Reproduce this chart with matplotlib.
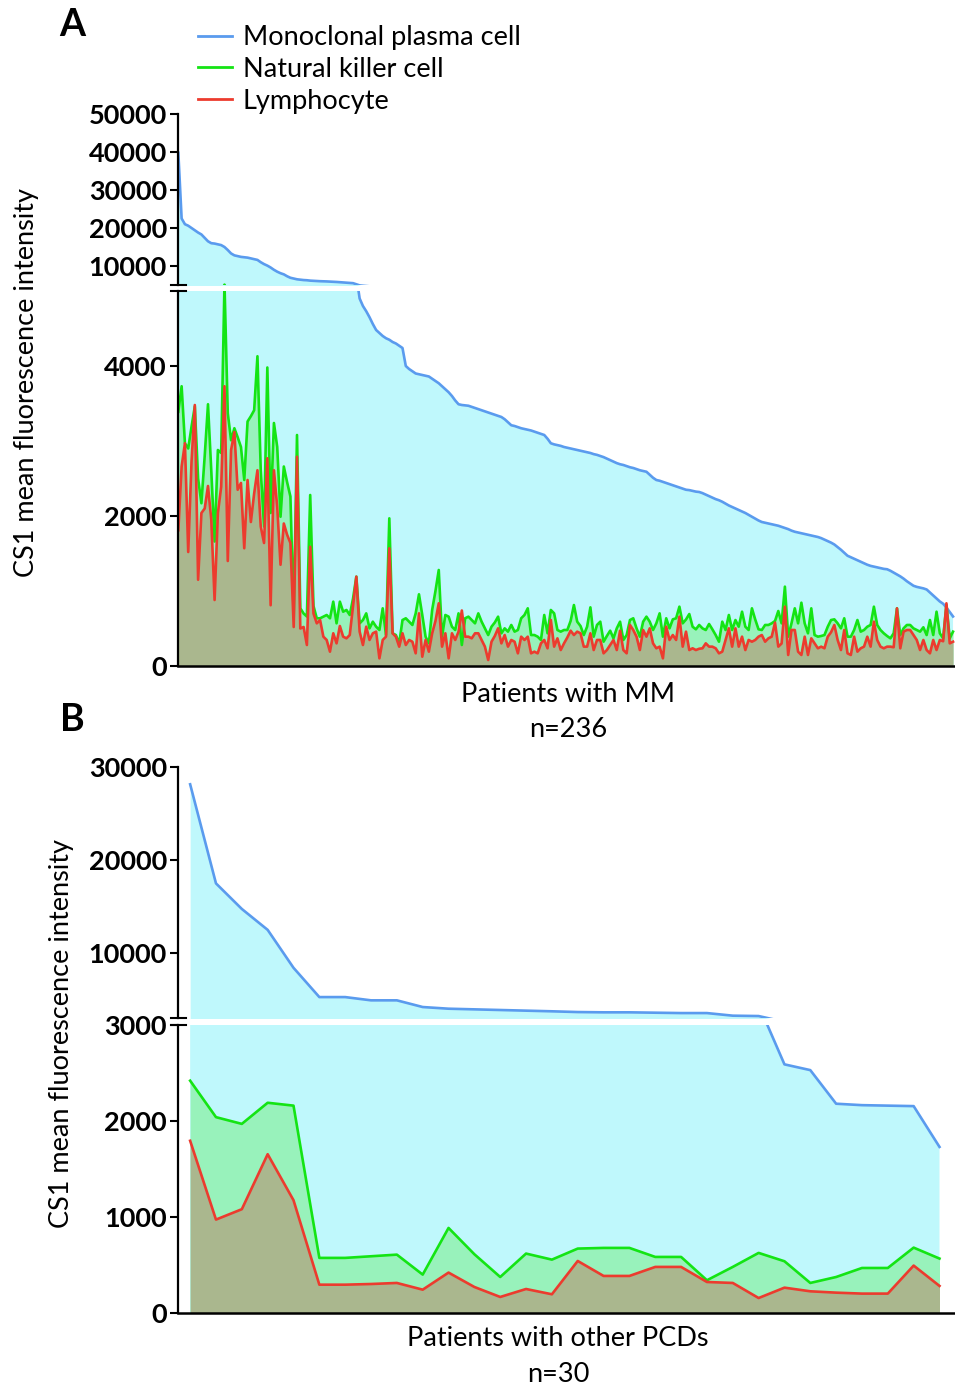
import numpy as np
import matplotlib
matplotlib.use('Agg')
import matplotlib.pyplot as plt
from matplotlib.lines import Line2D

plt.rcParams['font.family'] = ['Lato', 'DejaVu Sans']

# ---- panel A : 236 patients with MM (sorted by plasma cell MFI)
a_plasma = [39800, 22500, 21000, 20600, 20000, 19400, 18800, 18300, 17400, 16500,
            16000, 15900, 15700, 15500, 15000, 14200, 13300, 12800, 12600, 12400,
            12300, 12200, 12000, 11800, 11600, 11000, 10500, 10100, 9600, 9000,
            8500, 8100, 7800, 7300, 6900, 6700, 6500, 6400, 6300, 6250,
            6150, 6100, 6050, 6000, 5980, 5940, 5900, 5870, 5800, 5740,
            5680, 5620, 5560, 5480, 5200, 4900, 4800, 4730, 4650, 4560,
            4480, 4440, 4400, 4370, 4350, 4320, 4300, 4270, 4240, 4000,
            3960, 3930, 3900, 3890, 3880, 3870, 3860, 3830, 3800, 3770,
            3730, 3690, 3650, 3600, 3540, 3490, 3480, 3475, 3470, 3455,
            3440, 3425, 3410, 3395, 3380, 3365, 3350, 3335, 3320, 3290,
            3250, 3210, 3200, 3185, 3170, 3160, 3150, 3140, 3125, 3110,
            3095, 3080, 3030, 2970, 2955, 2945, 2935, 2920, 2910, 2900,
            2890, 2880, 2870, 2860, 2850, 2840, 2825, 2815, 2800, 2785,
            2765, 2745, 2725, 2705, 2690, 2680, 2665, 2650, 2640, 2625,
            2610, 2600, 2590, 2550, 2510, 2480, 2470, 2455, 2440, 2425,
            2410, 2395, 2380, 2365, 2350, 2345, 2335, 2325, 2320, 2305,
            2285, 2265, 2245, 2225, 2210, 2190, 2165, 2140, 2120, 2100,
            2080, 2060, 2040, 2015, 1990, 1965, 1940, 1920, 1910, 1900,
            1890, 1880, 1870, 1855, 1840, 1825, 1805, 1790, 1780, 1770,
            1760, 1750, 1740, 1730, 1720, 1705, 1685, 1665, 1645, 1620,
            1585, 1550, 1510, 1470, 1450, 1430, 1410, 1390, 1370, 1350,
            1335, 1325, 1315, 1305, 1295, 1290, 1270, 1245, 1220, 1195,
            1165, 1130, 1100, 1070, 1055, 1045, 1035, 1020, 980, 940,
            900, 860, 830, 780, 720, 660]

a_nk = [3390, 3730, 2970, 2900, 3190, 3460, 2500, 2170, 2800, 3490,
        2600, 1660, 2880, 2840, 5100, 3370, 3010, 3170, 3050, 2920,
        2480, 3260, 3330, 3410, 4130, 2610, 1860, 3980, 2040, 3240,
        2920, 1990, 2660, 2450, 2260, 660, 3080, 770, 700, 660,
        2280, 800, 636, 636, 658, 680, 636, 858, 569, 858,
        724, 747, 680, 900, 1191, 569, 613, 702, 502, 591,
        524, 480, 769, 413, 1969, 436, 413, 302, 613, 636,
        591, 547, 702, 956, 680, 391, 302, 747, 1000, 1280,
        391, 680, 658, 524, 480, 702, 280, 636, 658, 613,
        569, 702, 591, 502, 413, 524, 580, 658, 436, 502,
        458, 547, 458, 480, 636, 680, 769, 413, 413, 391,
        347, 680, 436, 747, 702, 480, 458, 480, 480, 600,
        813, 591, 533, 413, 524, 782, 391, 547, 591, 324,
        400, 471, 369, 502, 591, 347, 413, 613, 636, 502,
        391, 591, 658, 591, 480, 569, 702, 391, 636, 502,
        622, 636, 791, 569, 620, 693, 524, 489, 547, 502,
        480, 560, 489, 413, 324, 591, 480, 680, 480, 613,
        524, 724, 524, 480, 769, 620, 489, 480, 547, 547,
        569, 600, 733, 569, 1058, 391, 569, 769, 569, 844,
        569, 436, 769, 413, 391, 400, 413, 524, 613, 622,
        569, 502, 636, 391, 391, 480, 613, 458, 480, 524,
        547, 791, 547, 480, 436, 400, 369, 436, 769, 413,
        502, 547, 547, 502, 480, 458, 516, 413, 613, 413,
        724, 436, 369, 813, 369, 458]

a_lympho = [1810, 2660, 2970, 1520, 2720, 3480, 1150, 2040, 2100, 2400,
            1950, 880, 2040, 2390, 3730, 1400, 2880, 3120, 2350, 2440,
            1570, 2480, 1920, 2300, 2610, 1860, 1640, 2770, 810, 2610,
            2120, 1350, 1900, 1750, 1640, 520, 2790, 500, 520, 280,
            1590, 700, 569, 613, 391, 347, 191, 436, 302, 533,
            391, 369, 413, 800, 1191, 458, 280, 524, 347, 436,
            458, 102, 347, 391, 1569, 436, 391, 258, 436, 280,
            347, 324, 169, 702, 124, 347, 191, 436, 600, 836,
            258, 436, 102, 436, 347, 458, 740, 391, 391, 369,
            436, 436, 347, 258, 80, 324, 400, 502, 302, 413,
            258, 347, 324, 169, 391, 347, 391, 169, 191, 169,
            302, 347, 236, 613, 258, 369, 213, 302, 380, 471,
            413, 458, 436, 258, 258, 436, 213, 347, 347, 169,
            213, 280, 347, 213, 471, 213, 169, 547, 480, 391,
            213, 480, 391, 502, 302, 236, 258, 102, 524, 347,
            413, 347, 658, 258, 458, 213, 236, 213, 230, 236,
            302, 258, 258, 236, 169, 191, 347, 502, 258, 502,
            258, 391, 213, 347, 324, 347, 391, 413, 324, 369,
            391, 578, 258, 300, 791, 147, 480, 480, 191, 147,
            391, 147, 369, 302, 236, 258, 236, 391, 450, 547,
            347, 213, 480, 169, 147, 391, 191, 236, 258, 391,
            258, 591, 347, 258, 236, 258, 258, 250, 769, 236,
            458, 480, 480, 413, 347, 213, 347, 213, 169, 347,
            213, 347, 330, 836, 302, 324]

# ---- panel B : 30 patients with other PCDs
b_plasma = [28140, 17480, 14730, 12480, 8400, 5250, 5250, 4900, 4900, 4180,
            4000, 3930, 3860, 3790, 3720, 3640, 3610, 3610, 3570, 3530,
            3530, 3250, 3210, 2590, 2530, 2180, 2165, 2160, 2155, 1730]
b_nk = [2420, 2040, 1970, 2190, 2160, 574, 574, 591, 608, 400,
        886, 612, 375, 619, 556, 671, 678, 678, 584, 584,
        341, 480, 626, 539, 313, 375, 469, 469, 681, 567]
b_lympho = [1794, 973, 1081, 1654, 1175, 295, 295, 302, 313, 243,
            421, 271, 167, 250, 195, 542, 386, 386, 480, 480,
            323, 313, 156, 264, 226, 212, 202, 202, 494, 282]

labels = ['Monoclonal plasma cell', 'Natural killer cell', 'Lymphocyte']

BLUE = '#5a9bee'
GREEN = '#14e414'
RED = '#ec3b2e'
CYAN = '#bff8fc'
GFILL = '#98f2bb'
RFILL = '#aab78e'
FS = 19.5

W, H = 955, 1390
fig = plt.figure(figsize=(W / 100, H / 100), dpi=100)


def box(l, t, r, b):
    return [l / W, 1 - b / H, (r - l) / W, (b - t) / H]


def draw(ax, x, blue, green, red):
    ax.fill_between(x, 0, blue, color=CYAN, lw=0)
    ax.fill_between(x, 0, green, color=GFILL, lw=0)
    ax.fill_between(x, 0, red, color=RFILL, lw=0)
    ax.plot(x, blue, color=BLUE, lw=1.9)
    ax.plot(x, green, color=GREEN, lw=1.9)
    ax.plot(x, red, color=RED, lw=1.9)
    for s in ['top', 'right']:
        ax.spines[s].set_visible(False)
    ax.spines['left'].set_linewidth(1.6)
    ax.spines['bottom'].set_linewidth(1.8)
    ax.set_xticks([])
    ax.tick_params(axis='y', length=6, width=1.5, labelsize=FS, pad=2)


def brk(y1, y2):
    for y in (y1, y2):
        fig.add_artist(Line2D([171 / W, 186 / W], [1 - y / H, 1 - y / H],
                              transform=fig.transFigure, color='k', lw=1.5))


# panel A
xa = np.arange(len(a_plasma))
axA1 = fig.add_axes(box(178, 114, 955, 285))
axA2 = fig.add_axes(box(178, 291, 955, 666))
for ax in (axA1, axA2):
    draw(ax, xa, a_plasma, a_nk, a_lympho)
    ax.set_xlim(-0.1, 235.6)
axA1.set_ylim(5000, 50000)
axA1.set_yticks([10000, 20000, 30000, 40000, 50000])
axA1.spines['bottom'].set_visible(False)
axA2.set_ylim(0, 5000)
axA2.set_yticks([0, 2000, 4000])
for ax in (axA1, axA2):
    plt.setp(ax.get_yticklabels(), fontweight='bold')
brk(285, 291)

# panel B
xb = np.arange(len(b_plasma))
axB1 = fig.add_axes(box(178, 767, 955, 1018))
axB2 = fig.add_axes(box(178, 1025, 955, 1313))
for ax in (axB1, axB2):
    draw(ax, xb, b_plasma, b_nk, b_lympho)
    ax.set_xlim(-0.47, 29.6)
axB1.set_ylim(3000, 30000)
axB1.set_yticks([10000, 20000, 30000])
axB1.spines['bottom'].set_visible(False)
axB2.set_ylim(0, 3000)
axB2.set_yticks([0, 1000, 2000, 3000])
for ax in (axB1, axB2):
    plt.setp(ax.get_yticklabels(), fontweight='bold')
brk(1018, 1025)

# legend
handles = [Line2D([], [], color=c, lw=2) for c in (BLUE, GREEN, RED)]
fig.legend(handles, labels, loc='upper left', bbox_to_anchor=(198 / W, 1 - 25 / H),
           frameon=False, fontsize=FS, handlelength=1.26, handletextpad=0.4,
           labelspacing=0.25, borderpad=0, borderaxespad=0)

# texts
fig.text(72 / W, 1 - 25 / H, 'A', fontsize=27, fontweight='bold', ha='center', va='center')
fig.text(72 / W, 1 - 720 / H, 'B', fontsize=27, fontweight='bold', ha='center', va='center')
fig.text(27 / W, 1 - 383 / H, 'CS1 mean fluorescence intensity', rotation=90,
         ha='center', va='center', fontsize=FS)
fig.text(62 / W, 1 - 1033 / H, 'CS1 mean fluorescence intensity', rotation=90,
         ha='center', va='center', fontsize=FS)
fig.text(568 / W, 1 - 694 / H, 'Patients with MM', ha='center', va='center', fontsize=FS)
fig.text(568 / W, 1 - 730 / H, 'n=236', ha='center', va='center', fontsize=FS)
fig.text(558 / W, 1 - 1339 / H, 'Patients with other PCDs', ha='center', va='center', fontsize=FS)
fig.text(558 / W, 1 - 1375 / H, 'n=30', ha='center', va='center', fontsize=FS)

fig.savefig('out.png', dpi=100)
